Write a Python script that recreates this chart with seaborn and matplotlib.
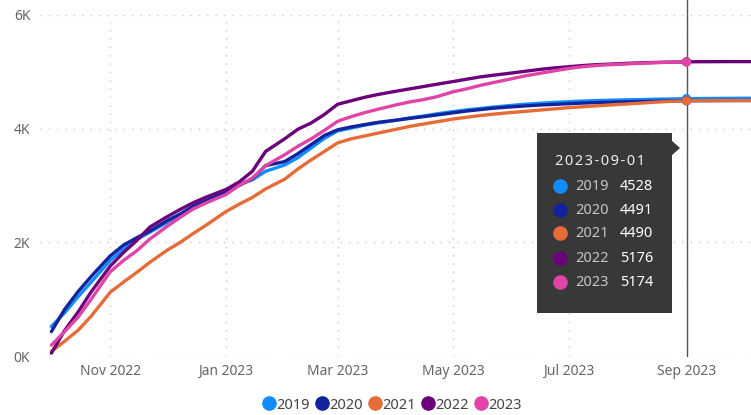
import matplotlib
matplotlib.use("Agg")
import matplotlib.pyplot as plt
import matplotlib.dates as mdates
from matplotlib.lines import Line2D
from matplotlib.patches import Rectangle, Polygon
import numpy as np
import pandas as pd
import seaborn as sns

# dates: 1st, 8th, 15th and 22nd of each month, Oct 2022 - Oct 2023
months = [(2022, m) for m in (10, 11, 12)] + [(2023, m) for m in range(1, 11)]
dates = [f"{y}-{m:02d}-{d:02d}" for y, m in months for d in (1, 8, 15, 22)][:50]

s2019 = [520, 760, 1040, 1300, 1680, 1880, 2050, 2180, 2350, 2480, 2620, 2720,
         2880, 3020, 3100, 3250, 3360, 3490, 3660, 3830, 3960, 4010, 4060, 4100,
         4150, 4190, 4220, 4260, 4300, 4330, 4355, 4380, 4410, 4430, 4445, 4460,
         4475, 4485, 4495, 4500, 4508, 4512, 4518, 4522, 4528, 4530, 4532, 4533,
         4535, 4536]
s2020 = [430, 820, 1130, 1400, 1760, 1950, 2080, 2200, 2380, 2500, 2640, 2740,
         2890, 3000, 3120, 3350, 3420, 3560, 3720, 3880, 3980, 4030, 4070, 4110,
         4150, 4180, 4210, 4240, 4280, 4310, 4335, 4360, 4385, 4400, 4415, 4425,
         4440, 4450, 4458, 4465, 4472, 4478, 4482, 4486, 4491, 4493, 4494, 4495,
         4495, 4496]
s2021 = [80, 260, 450, 700, 1120, 1300, 1470, 1650, 1860, 2000, 2160, 2310,
         2540, 2670, 2790, 2940, 3110, 3290, 3450, 3600, 3750, 3820, 3870, 3920,
         3990, 4040, 4080, 4120, 4170, 4200, 4230, 4255, 4285, 4305, 4325, 4345,
         4370, 4385, 4400, 4415, 4435, 4450, 4465, 4478, 4490, 4492, 4493, 4494,
         4495, 4495]
s2022 = [50, 450, 770, 1130, 1580, 1820, 2030, 2270, 2450, 2580, 2700, 2800,
         2930, 3060, 3250, 3600, 3820, 3990, 4100, 4250, 4430, 4490, 4550, 4600,
         4660, 4700, 4740, 4780, 4830, 4870, 4910, 4940, 4980, 5010, 5040, 5065,
         5090, 5110, 5125, 5135, 5150, 5158, 5165, 5170, 5176, 5178, 5179, 5180,
         5180, 5180]
s2023 = [190, 430, 680, 1000, 1480, 1680, 1850, 2060, 2280, 2440, 2590, 2700,
         2840, 3000, 3130, 3350, 3540, 3690, 3820, 3970, 4130, 4210, 4280, 4340,
         4420, 4470, 4510, 4560, 4650, 4700, 4760, 4810, 4880, 4930, 4970, 5010,
         5060, 5090, 5110, 5125, 5140, 5150, 5160, 5168, 5174, np.nan, np.nan, np.nan,
         np.nan, np.nan]

years = ["2019", "2020", "2021", "2022", "2023"]
series = [s2019, s2020, s2021, s2022, s2023]
colors = ["#118DFF", "#12239E", "#E66C37", "#6B007B", "#E044A7"]
hover_date = "2023-09-01"

df = pd.concat([pd.DataFrame({"date": pd.to_datetime(dates), "value": s, "year": y})
                for y, s in zip(years, series)])
df = df.dropna()

sns.set_style("white")
plt.rcParams["font.family"] = ["Noto Sans", "DejaVu Sans"]

fig = plt.figure(figsize=(7.51, 4.15), dpi=100)
ax = fig.add_axes([40 / 751, 1 - 356 / 415, 1 - 40 / 751, (356 - 15) / 415])

palette = dict(zip(years, colors))
sns.lineplot(data=df, x="date", y="value", hue="year", palette=palette,
             linewidth=2.4, legend=False, ax=ax)

# hover line and points
hd = pd.Timestamp(hover_date)
ax.axvline(hd, color="#555555", lw=1, ymax=1.05, clip_on=False, zorder=1)
hi = dates.index(hover_date)
for y, s, c in zip(years, series, colors):
    ax.scatter([hd], [s[hi]], s=45, color=c, zorder=5, edgecolor="none")

ax.set_ylim(0, 6000)
ax.set_xlim(pd.Timestamp("2022-09-25"), pd.Timestamp("2023-10-05"))
ax.set_yticks([0, 2000, 4000, 6000])
ax.set_yticklabels(["0K", "2K", "4K", "6K"])
ax.xaxis.set_major_locator(mdates.MonthLocator(bymonth=[1, 3, 5, 7, 9, 11]))
ax.xaxis.set_major_formatter(mdates.DateFormatter("%b %Y"))
ax.set_xlabel("")
ax.set_ylabel("")
ax.tick_params(length=0, labelsize=10, labelcolor="#666666")
ax.tick_params(axis="y", pad=7)
ax.tick_params(axis="x", pad=6)
ax.grid(True, color="#c8c8c8", lw=1, linestyle=(0, (1, 5)))
for sp in ax.spines.values():
    sp.set_visible(False)

# tooltip
W, H = 751, 415
def fx(px):
    return px / W
def fy(py):
    return 1 - py / H

fig.add_artist(Rectangle((fx(537), fy(313)), fx(672) - fx(537), fy(133) - fy(313),
                         transform=fig.transFigure, facecolor="#383838",
                         edgecolor="none", zorder=10))
fig.add_artist(Polygon([(fx(671), fy(140)), (fx(680), fy(148)), (fx(671), fy(156))],
                       closed=True, transform=fig.transFigure, facecolor="#383838",
                       edgecolor="none", zorder=10))
fig.text(fx(555), fy(161), "\u200a".join(hover_date), color="#eeeeee", fontsize=10.5,
         fontweight="bold", va="center", ha="left", zorder=11)
rows_y = [186, 210, 233, 258, 282]
for ry, y, s, c in zip(rows_y, years, series, colors):
    fig.add_artist(Line2D([fx(560)], [fy(ry)], marker="o", ms=9.5, color=c,
                          transform=fig.transFigure, zorder=11))
    fig.text(fx(575), fy(ry), y, color="#c4c4c4", fontsize=10.5, va="center",
             ha="left", zorder=11)
    fig.text(fx(620), fy(ry), f"{int(s[hi])}", color="#ffffff", fontsize=10.5,
             fontweight="bold", va="center", ha="left", zorder=11)

# legend
handles = [Line2D([], [], marker="o", ls="none", ms=9.5, color=c) for c in colors]
fig.legend(handles, years, loc="center", bbox_to_anchor=(0.523, fy(405)), ncol=5,
           frameon=False, handlelength=0.7, handletextpad=0.15, columnspacing=0.5,
           fontsize=10.5, labelcolor="#444444")

fig.savefig("out.png", dpi=100)
